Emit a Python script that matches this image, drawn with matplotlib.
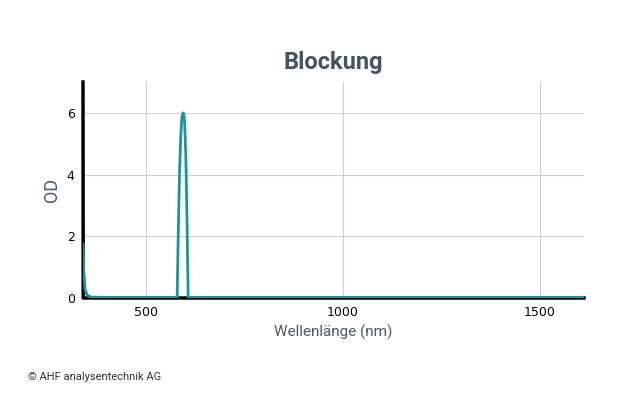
import matplotlib
matplotlib.use("Agg")
import matplotlib.pyplot as plt

# Blocking (teal) curve
block_nm = [340, 342, 345, 350, 360, 400, 500, 575, 579, 582, 585, 588, 591, 594, 596, 598, 601, 604, 607, 611, 700, 1000, 1612]
block_od = [1.75, 0.9, 0.3, 0.1, 0.03, 0.02, 0.02, 0.02, 0.0, 2.2, 4.0, 5.2, 5.85, 6.0, 5.95, 5.7, 4.6, 2.6, 0.0, 0.02, 0.02, 0.02, 0.02]
# Black reference curve
ref_nm = [340, 340.5, 1612]
ref_od = [7.0, 0.0, 0.0]

fig = plt.figure(figsize=(6.4, 4.0), dpi=100)
ax = fig.add_axes([83 / 640, 102 / 400, 501 / 640, 216 / 400])
ax.plot(ref_nm, ref_od, color="black", lw=2.5, zorder=2, clip_on=False)
ax.plot(block_nm, block_od, color="#16979c", lw=2, zorder=3)
ax.set_xlim(340, 1612)
ax.set_ylim(0, 7)
ax.set_xticks([500, 1000, 1500])
ax.set_yticks([0, 2, 4, 6])
ax.grid(color="#d0d0d0", lw=0.8)
for s in ax.spines.values():
    s.set_visible(False)
ax.tick_params(length=0, labelsize=9, pad=6)
ax.set_xlabel("Wellenlänge (nm)", color="#4a5a66", fontsize=11, family="Roboto")
ax.set_ylabel("OD", color="#4a5a66", fontsize=13, family="Roboto")
fig.text(0.52, 1 - 63 / 400, "Blockung", ha="center", va="center", fontsize=17,
         fontweight="bold", color="#44555f", family="Roboto")
fig.text(28 / 640, 1 - 377 / 400, "© AHF analysentechnik AG", fontsize=8, color="#333333",
         va="center", family="Roboto")
fig.savefig("out.png", dpi=100)
